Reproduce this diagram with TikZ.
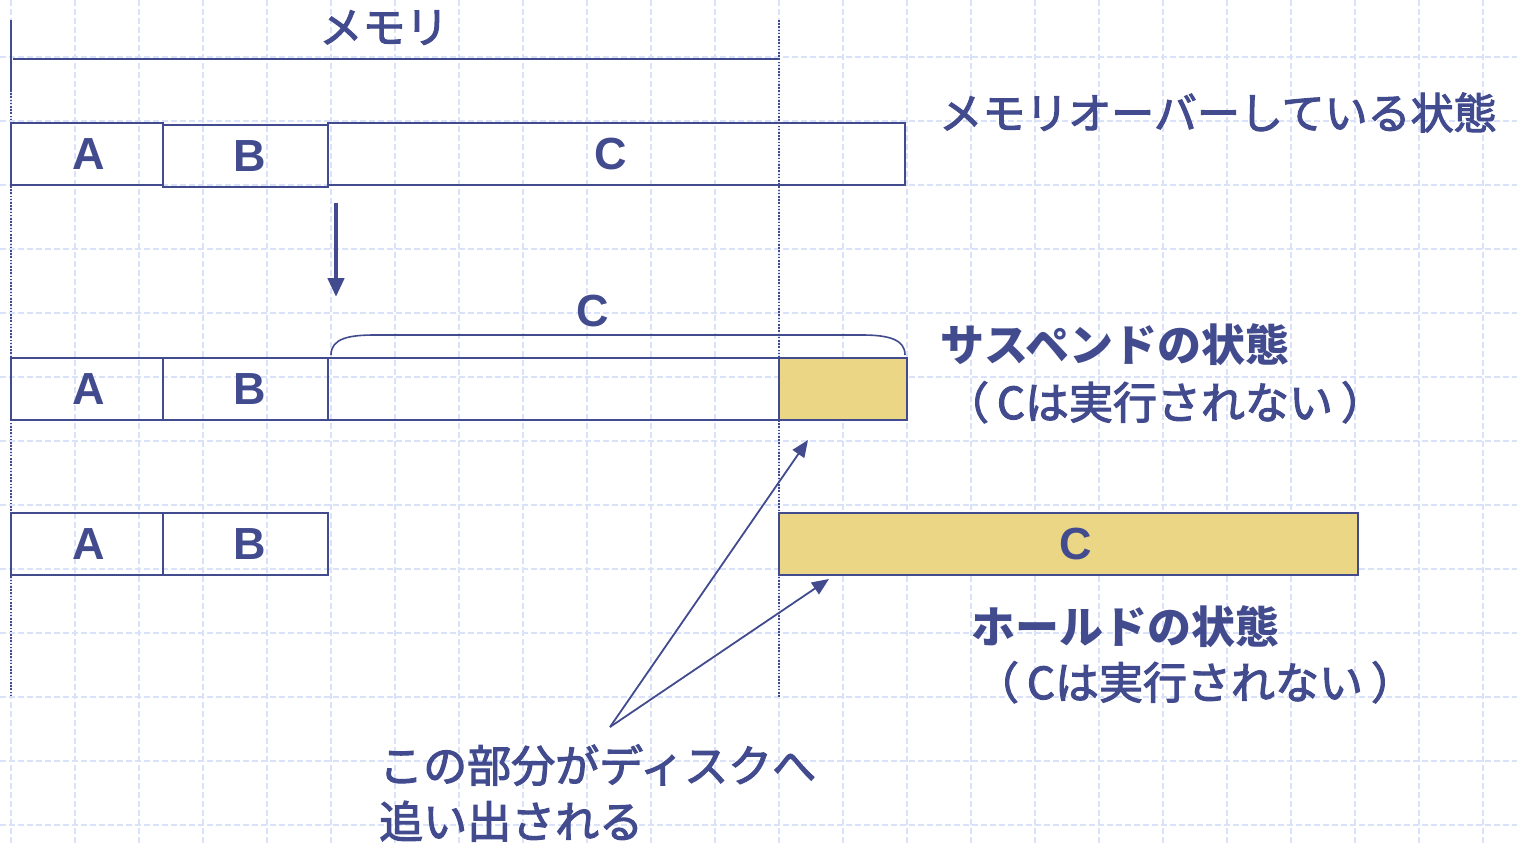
\documentclass[tikz,border=0pt]{standalone}
\usepackage{fontspec}
\setmainfont{Noto Sans CJK JP}
\newfontfamily\jpmed{Noto Sans CJK JP}[FakeBold=2.5]
\newfontfamily\abcfont{Liberation Sans}
\usetikzlibrary{arrows.meta}
\definecolor{ink}{HTML}{414B8E}
\definecolor{fillc}{HTML}{EAD685}
\definecolor{gridc}{HTML}{DAE2FA}
\begin{document}
\begin{tikzpicture}[x=1pt,y=-1pt,
  gridline/.style={draw=gridc, line width=1.2pt, dash pattern=on 6pt off 3pt},
  membox/.style={draw=ink, line width=2pt, inner sep=0pt, text=ink,
    font=\abcfont\bfseries\fontsize{45}{45}\selectfont},
  swapped/.style={membox, fill=fillc},
  jp/.style={text=ink, inner sep=0pt, font=\jpmed\fontsize{43}{52}\selectfont},
  jpc/.style={text=ink, inner sep=0pt, font=\jpmed\fontsize{44}{52}\selectfont},
  jpb/.style={text=ink, inner sep=0pt, font=\bfseries\fontsize{44}{52}\selectfont},
  inkline/.style={draw=ink, line width=2pt},
  dotline/.style={draw=ink, line width=1.6pt, dash pattern=on 1.6pt off 1.6pt},
  thinarrow/.style={draw=ink, line width=1.8pt, -{Triangle[length=17pt,width=14pt]}},
  thickarrow/.style={draw=ink, line width=4.5pt, -{Triangle[length=19pt,width=16pt]}}
]
\useasboundingbox (0,0) rectangle (1517,845);
\fill[white] (0,0) rectangle (1517,845);
% grid
\foreach \gx in {11,75,...,1500} \draw[gridline] (\gx,0) -- (\gx,845);
\foreach \gy in {57,121,...,845} \draw[gridline] (0,\gy) -- (1517,\gy);

% memory span marker
\coordinate (mtl) at (11,20);
\coordinate (mbl) at (11,90);
\coordinate (mend) at (11,697);
\coordinate (rtop) at (779,20);
\coordinate (rend) at (779,697);
\coordinate (hl) at (13,59);
\coordinate (hr) at (779,59);
\draw[inkline] (mtl) -- (mbl);
\draw[dotline] (mbl) -- (mend);
\draw[dotline] (rtop) -- (rend);
\draw[inkline] (hl) -- (hr);
\node[jp, anchor=base] (memlabel) at (384,43) {メモリ};

% row 1
\node[membox, minimum width=152pt, minimum height=62pt, text width=152pt, align=center] (a1) at (87,154) {\hspace*{4pt}A};
\node[membox, minimum width=165pt, minimum height=62pt, text width=165pt, align=center] (b1) at (245.5,156) {\hspace*{9pt}B};
\node[membox, minimum width=577pt, minimum height=62pt, text width=577pt, align=center] (c1) at (616.5,154) {C\hspace*{12pt}};
\node[jp, anchor=base] (over) at (1218,129) {メモリオーバーしている状態};

% down arrow
\coordinate (dstart) at (336,203);
\coordinate (dend) at (336,297);
\draw[thickarrow] (dstart) -- (dend);

% row 2
\node[membox, minimum width=152pt, minimum height=62pt, text width=152pt, align=center] (a2) at (87,389) {\hspace*{4pt}A};
\node[membox, minimum width=165pt, minimum height=62pt, text width=165pt, align=center] (b2) at (245.5,389) {\hspace*{9pt}B};
\node[membox, minimum width=451pt, minimum height=62pt] (c2) at (553.5,389) {};
\node[swapped, minimum width=128pt, minimum height=62pt] (c2s) at (843,389) {};
\node[text=ink, inner sep=0pt, font=\abcfont\bfseries\fontsize{45}{45}\selectfont] (clabel) at (593,311) {C};
\coordinate (brl) at (331,355);
\coordinate (brr) at (905,355);
\draw[ink, line width=1.6pt] (brl) .. controls (331,338) and (350,335) .. (375,335)
  -- (862,335) .. controls (890,335) and (905,340) .. (brr);
\node[jpb, anchor=base] (susp) at (1115,361) {サスペンドの状態};
\node[jpc, anchor=base] (susp2) at (1165,419) {（\hspace{8pt}Cは実行されない\hspace{8pt}）};

% row 3
\node[membox, minimum width=152pt, minimum height=62pt, text width=152pt, align=center] (a3) at (87,544) {\hspace*{4pt}A};
\node[membox, minimum width=165pt, minimum height=62pt, text width=165pt, align=center] (b3) at (245.5,544) {\hspace*{9pt}B};
\node[swapped, minimum width=579pt, minimum height=62pt, text width=579pt, align=center] (c3) at (1068.5,544) {\hspace*{14pt}C};
\node[jpb, anchor=base] (hold) at (1125,643) {ホールドの状態};
\node[jpc, anchor=base] (hold2) at (1195,699) {（\hspace{8pt}Cは実行されない\hspace{8pt}）};

% caption and arrows
\node[jpc, anchor=base west] (cap1) at (379,782) {この部分がディスクへ};
\node[jpc, anchor=base west] (cap2) at (379,838) {追い出される};
\coordinate (src) at (610,727);
\coordinate (t1) at (808,440);
\coordinate (t2) at (829,579);
\draw[thinarrow] (src) -- (t1);
\draw[thinarrow] (src) -- (t2);
\end{tikzpicture}
\end{document}
